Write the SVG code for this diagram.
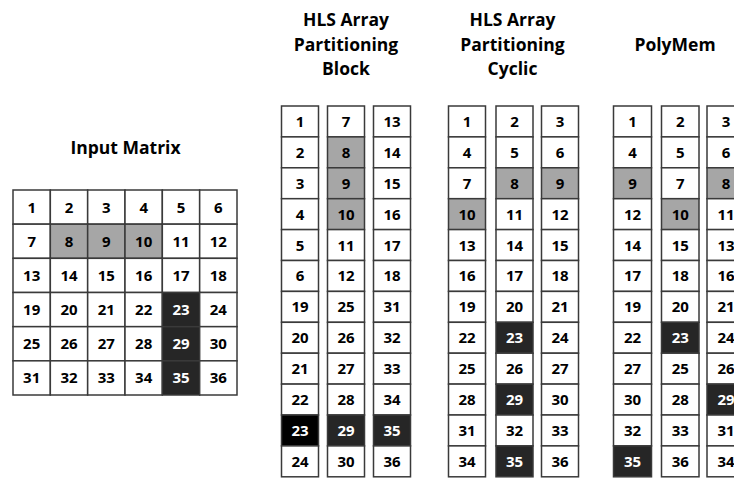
<svg xmlns="http://www.w3.org/2000/svg" width="734" height="479" viewBox="0 0 734 479">
<style>
  .t{font-family:"Open Sans",Lato,"Liberation Sans",sans-serif;font-weight:bold;font-size:17.5px;fill:#000;text-anchor:middle}
  .n{font-family:"Open Sans",Lato,"Liberation Sans",sans-serif;font-weight:bold;font-size:15px;fill:#000;text-anchor:middle}
  .w{fill:#fff}
  rect{stroke:#3a3a3a;stroke-width:1.5;fill:#fff}
  rect.g{fill:#a6a6a6}
  rect.d{fill:#262626}
  rect.k{fill:#000}
</style>
<rect x="0" y="0" width="734" height="479" style="fill:#fff;stroke:none"/>

<!-- Titles -->
<text class="t" x="125.5" y="154">Input Matrix</text>
<text class="t" x="346" y="26">HLS Array</text>
<text class="t" x="346" y="50.5">Partitioning</text>
<text class="t" x="346" y="75">Block</text>
<text class="t" x="512.5" y="26">HLS Array</text>
<text class="t" x="512.5" y="50.5">Partitioning</text>
<text class="t" x="512.5" y="75">Cyclic</text>
<text class="t" x="675" y="51">PolyMem</text>

<!-- Input Matrix -->
<g id="input-matrix">
  <rect x="13" y="190" width="37.33" height="34.17"/><rect x="50.33" y="190" width="37.33" height="34.17"/><rect x="87.67" y="190" width="37.33" height="34.17"/><rect x="125" y="190" width="37.33" height="34.17"/><rect x="162.33" y="190" width="37.33" height="34.17"/><rect x="199.67" y="190" width="37.33" height="34.17"/>
  <rect x="13" y="224.17" width="37.33" height="34.17"/><rect class="g" x="50.33" y="224.17" width="37.33" height="34.17"/><rect class="g" x="87.67" y="224.17" width="37.33" height="34.17"/><rect class="g" x="125" y="224.17" width="37.33" height="34.17"/><rect x="162.33" y="224.17" width="37.33" height="34.17"/><rect x="199.67" y="224.17" width="37.33" height="34.17"/>
  <rect x="13" y="258.33" width="37.33" height="34.17"/><rect x="50.33" y="258.33" width="37.33" height="34.17"/><rect x="87.67" y="258.33" width="37.33" height="34.17"/><rect x="125" y="258.33" width="37.33" height="34.17"/><rect x="162.33" y="258.33" width="37.33" height="34.17"/><rect x="199.67" y="258.33" width="37.33" height="34.17"/>
  <rect x="13" y="292.5" width="37.33" height="34.17"/><rect x="50.33" y="292.5" width="37.33" height="34.17"/><rect x="87.67" y="292.5" width="37.33" height="34.17"/><rect x="125" y="292.5" width="37.33" height="34.17"/><rect class="d" x="162.33" y="292.5" width="37.33" height="34.17"/><rect x="199.67" y="292.5" width="37.33" height="34.17"/>
  <rect x="13" y="326.67" width="37.33" height="34.17"/><rect x="50.33" y="326.67" width="37.33" height="34.17"/><rect x="87.67" y="326.67" width="37.33" height="34.17"/><rect x="125" y="326.67" width="37.33" height="34.17"/><rect class="d" x="162.33" y="326.67" width="37.33" height="34.17"/><rect x="199.67" y="326.67" width="37.33" height="34.17"/>
  <rect x="13" y="360.83" width="37.33" height="34.17"/><rect x="50.33" y="360.83" width="37.33" height="34.17"/><rect x="87.67" y="360.83" width="37.33" height="34.17"/><rect x="125" y="360.83" width="37.33" height="34.17"/><rect class="d" x="162.33" y="360.83" width="37.33" height="34.17"/><rect x="199.67" y="360.83" width="37.33" height="34.17"/>
  <g class="n">
    <text x="31.67" y="212.6">1</text><text x="69" y="212.6">2</text><text x="106.33" y="212.6">3</text><text x="143.67" y="212.6">4</text><text x="181" y="212.6">5</text><text x="218.33" y="212.6">6</text>
    <text x="31.67" y="246.8">7</text><text x="69" y="246.8">8</text><text x="106.33" y="246.8">9</text><text x="143.67" y="246.8">10</text><text x="181" y="246.8">11</text><text x="218.33" y="246.8">12</text>
    <text x="31.67" y="280.9">13</text><text x="69" y="280.9">14</text><text x="106.33" y="280.9">15</text><text x="143.67" y="280.9">16</text><text x="181" y="280.9">17</text><text x="218.33" y="280.9">18</text>
    <text x="31.67" y="315.1">19</text><text x="69" y="315.1">20</text><text x="106.33" y="315.1">21</text><text x="143.67" y="315.1">22</text><text class="w" x="181" y="315.1">23</text><text x="218.33" y="315.1">24</text>
    <text x="31.67" y="349.3">25</text><text x="69" y="349.3">26</text><text x="106.33" y="349.3">27</text><text x="143.67" y="349.3">28</text><text class="w" x="181" y="349.3">29</text><text x="218.33" y="349.3">30</text>
    <text x="31.67" y="383.4">31</text><text x="69" y="383.4">32</text><text x="106.33" y="383.4">33</text><text x="143.67" y="383.4">34</text><text class="w" x="181" y="383.4">35</text><text x="218.33" y="383.4">36</text>
  </g>
</g>

<!-- Block partitioning -->
<g id="block-col1" transform="translate(281.5,106)">
  <rect x="0" y="0" width="37" height="30.9"/><rect x="0" y="30.9" width="37" height="30.9"/><rect x="0" y="61.8" width="37" height="30.9"/><rect x="0" y="92.7" width="37" height="30.9"/><rect x="0" y="123.6" width="37" height="30.9"/><rect x="0" y="154.5" width="37" height="30.9"/><rect x="0" y="185.4" width="37" height="30.9"/><rect x="0" y="216.3" width="37" height="30.9"/><rect x="0" y="247.2" width="37" height="30.9"/><rect x="0" y="278.1" width="37" height="30.9"/><rect class="k" x="0" y="309" width="37" height="30.9"/><rect x="0" y="339.9" width="37" height="30.9"/>
  <g class="n"><text x="18.5" y="20.9">1</text><text x="18.5" y="51.8">2</text><text x="18.5" y="82.7">3</text><text x="18.5" y="113.6">4</text><text x="18.5" y="144.5">5</text><text x="18.5" y="175.4">6</text><text x="18.5" y="206.3">19</text><text x="18.5" y="237.2">20</text><text x="18.5" y="268.1">21</text><text x="18.5" y="299">22</text><text class="w" x="18.5" y="329.9">23</text><text x="18.5" y="360.8">24</text></g>
</g>
<g id="block-col2" transform="translate(327.5,106)">
  <rect x="0" y="0" width="37" height="30.9"/><rect class="g" x="0" y="30.9" width="37" height="30.9"/><rect class="g" x="0" y="61.8" width="37" height="30.9"/><rect class="g" x="0" y="92.7" width="37" height="30.9"/><rect x="0" y="123.6" width="37" height="30.9"/><rect x="0" y="154.5" width="37" height="30.9"/><rect x="0" y="185.4" width="37" height="30.9"/><rect x="0" y="216.3" width="37" height="30.9"/><rect x="0" y="247.2" width="37" height="30.9"/><rect x="0" y="278.1" width="37" height="30.9"/><rect class="d" x="0" y="309" width="37" height="30.9"/><rect x="0" y="339.9" width="37" height="30.9"/>
  <g class="n"><text x="18.5" y="20.9">7</text><text x="18.5" y="51.8">8</text><text x="18.5" y="82.7">9</text><text x="18.5" y="113.6">10</text><text x="18.5" y="144.5">11</text><text x="18.5" y="175.4">12</text><text x="18.5" y="206.3">25</text><text x="18.5" y="237.2">26</text><text x="18.5" y="268.1">27</text><text x="18.5" y="299">28</text><text class="w" x="18.5" y="329.9">29</text><text x="18.5" y="360.8">30</text></g>
</g>
<g id="block-col3" transform="translate(373.5,106)">
  <rect x="0" y="0" width="37" height="30.9"/><rect x="0" y="30.9" width="37" height="30.9"/><rect x="0" y="61.8" width="37" height="30.9"/><rect x="0" y="92.7" width="37" height="30.9"/><rect x="0" y="123.6" width="37" height="30.9"/><rect x="0" y="154.5" width="37" height="30.9"/><rect x="0" y="185.4" width="37" height="30.9"/><rect x="0" y="216.3" width="37" height="30.9"/><rect x="0" y="247.2" width="37" height="30.9"/><rect x="0" y="278.1" width="37" height="30.9"/><rect class="d" x="0" y="309" width="37" height="30.9"/><rect x="0" y="339.9" width="37" height="30.9"/>
  <g class="n"><text x="18.5" y="20.9">13</text><text x="18.5" y="51.8">14</text><text x="18.5" y="82.7">15</text><text x="18.5" y="113.6">16</text><text x="18.5" y="144.5">17</text><text x="18.5" y="175.4">18</text><text x="18.5" y="206.3">31</text><text x="18.5" y="237.2">32</text><text x="18.5" y="268.1">33</text><text x="18.5" y="299">34</text><text class="w" x="18.5" y="329.9">35</text><text x="18.5" y="360.8">36</text></g>
</g>

<!-- Cyclic partitioning -->
<g id="cyclic-col1" transform="translate(448.5,106)">
  <rect x="0" y="0" width="37" height="30.9"/><rect x="0" y="30.9" width="37" height="30.9"/><rect x="0" y="61.8" width="37" height="30.9"/><rect class="g" x="0" y="92.7" width="37" height="30.9"/><rect x="0" y="123.6" width="37" height="30.9"/><rect x="0" y="154.5" width="37" height="30.9"/><rect x="0" y="185.4" width="37" height="30.9"/><rect x="0" y="216.3" width="37" height="30.9"/><rect x="0" y="247.2" width="37" height="30.9"/><rect x="0" y="278.1" width="37" height="30.9"/><rect x="0" y="309" width="37" height="30.9"/><rect x="0" y="339.9" width="37" height="30.9"/>
  <g class="n"><text x="18.5" y="20.9">1</text><text x="18.5" y="51.8">4</text><text x="18.5" y="82.7">7</text><text x="18.5" y="113.6">10</text><text x="18.5" y="144.5">13</text><text x="18.5" y="175.4">16</text><text x="18.5" y="206.3">19</text><text x="18.5" y="237.2">22</text><text x="18.5" y="268.1">25</text><text x="18.5" y="299">28</text><text x="18.5" y="329.9">31</text><text x="18.5" y="360.8">34</text></g>
</g>
<g id="cyclic-col2" transform="translate(496,106)">
  <rect x="0" y="0" width="37" height="30.9"/><rect x="0" y="30.9" width="37" height="30.9"/><rect class="g" x="0" y="61.8" width="37" height="30.9"/><rect x="0" y="92.7" width="37" height="30.9"/><rect x="0" y="123.6" width="37" height="30.9"/><rect x="0" y="154.5" width="37" height="30.9"/><rect x="0" y="185.4" width="37" height="30.9"/><rect class="d" x="0" y="216.3" width="37" height="30.9"/><rect x="0" y="247.2" width="37" height="30.9"/><rect class="d" x="0" y="278.1" width="37" height="30.9"/><rect x="0" y="309" width="37" height="30.9"/><rect class="d" x="0" y="339.9" width="37" height="30.9"/>
  <g class="n"><text x="18.5" y="20.9">2</text><text x="18.5" y="51.8">5</text><text x="18.5" y="82.7">8</text><text x="18.5" y="113.6">11</text><text x="18.5" y="144.5">14</text><text x="18.5" y="175.4">17</text><text x="18.5" y="206.3">20</text><text class="w" x="18.5" y="237.2">23</text><text x="18.5" y="268.1">26</text><text class="w" x="18.5" y="299">29</text><text x="18.5" y="329.9">32</text><text class="w" x="18.5" y="360.8">35</text></g>
</g>
<g id="cyclic-col3" transform="translate(541.5,106)">
  <rect x="0" y="0" width="37" height="30.9"/><rect x="0" y="30.9" width="37" height="30.9"/><rect class="g" x="0" y="61.8" width="37" height="30.9"/><rect x="0" y="92.7" width="37" height="30.9"/><rect x="0" y="123.6" width="37" height="30.9"/><rect x="0" y="154.5" width="37" height="30.9"/><rect x="0" y="185.4" width="37" height="30.9"/><rect x="0" y="216.3" width="37" height="30.9"/><rect x="0" y="247.2" width="37" height="30.9"/><rect x="0" y="278.1" width="37" height="30.9"/><rect x="0" y="309" width="37" height="30.9"/><rect x="0" y="339.9" width="37" height="30.9"/>
  <g class="n"><text x="18.5" y="20.9">3</text><text x="18.5" y="51.8">6</text><text x="18.5" y="82.7">9</text><text x="18.5" y="113.6">12</text><text x="18.5" y="144.5">15</text><text x="18.5" y="175.4">18</text><text x="18.5" y="206.3">21</text><text x="18.5" y="237.2">24</text><text x="18.5" y="268.1">27</text><text x="18.5" y="299">30</text><text x="18.5" y="329.9">33</text><text x="18.5" y="360.8">36</text></g>
</g>

<!-- PolyMem -->
<g id="polymem-col1" transform="translate(613.5,106)">
  <rect x="0" y="0" width="38" height="30.9"/><rect x="0" y="30.9" width="38" height="30.9"/><rect class="g" x="0" y="61.8" width="38" height="30.9"/><rect x="0" y="92.7" width="38" height="30.9"/><rect x="0" y="123.6" width="38" height="30.9"/><rect x="0" y="154.5" width="38" height="30.9"/><rect x="0" y="185.4" width="38" height="30.9"/><rect x="0" y="216.3" width="38" height="30.9"/><rect x="0" y="247.2" width="38" height="30.9"/><rect x="0" y="278.1" width="38" height="30.9"/><rect x="0" y="309" width="38" height="30.9"/><rect class="d" x="0" y="339.9" width="38" height="30.9"/>
  <g class="n"><text x="19" y="20.9">1</text><text x="19" y="51.8">4</text><text x="19" y="82.7">9</text><text x="19" y="113.6">12</text><text x="19" y="144.5">14</text><text x="19" y="175.4">17</text><text x="19" y="206.3">19</text><text x="19" y="237.2">22</text><text x="19" y="268.1">27</text><text x="19" y="299">30</text><text x="19" y="329.9">32</text><text class="w" x="19" y="360.8">35</text></g>
</g>
<g id="polymem-col2" transform="translate(661.5,106)">
  <rect x="0" y="0" width="37.5" height="30.9"/><rect x="0" y="30.9" width="37.5" height="30.9"/><rect x="0" y="61.8" width="37.5" height="30.9"/><rect class="g" x="0" y="92.7" width="37.5" height="30.9"/><rect x="0" y="123.6" width="37.5" height="30.9"/><rect x="0" y="154.5" width="37.5" height="30.9"/><rect x="0" y="185.4" width="37.5" height="30.9"/><rect class="d" x="0" y="216.3" width="37.5" height="30.9"/><rect x="0" y="247.2" width="37.5" height="30.9"/><rect x="0" y="278.1" width="37.5" height="30.9"/><rect x="0" y="309" width="37.5" height="30.9"/><rect x="0" y="339.9" width="37.5" height="30.9"/>
  <g class="n"><text x="18.75" y="20.9">2</text><text x="18.75" y="51.8">5</text><text x="18.75" y="82.7">7</text><text x="18.75" y="113.6">10</text><text x="18.75" y="144.5">15</text><text x="18.75" y="175.4">18</text><text x="18.75" y="206.3">20</text><text class="w" x="18.75" y="237.2">23</text><text x="18.75" y="268.1">25</text><text x="18.75" y="299">28</text><text x="18.75" y="329.9">33</text><text x="18.75" y="360.8">36</text></g>
</g>
<g id="polymem-col3" transform="translate(707,106)">
  <rect x="0" y="0" width="38" height="30.9"/><rect x="0" y="30.9" width="38" height="30.9"/><rect class="g" x="0" y="61.8" width="38" height="30.9"/><rect x="0" y="92.7" width="38" height="30.9"/><rect x="0" y="123.6" width="38" height="30.9"/><rect x="0" y="154.5" width="38" height="30.9"/><rect x="0" y="185.4" width="38" height="30.9"/><rect x="0" y="216.3" width="38" height="30.9"/><rect x="0" y="247.2" width="38" height="30.9"/><rect class="d" x="0" y="278.1" width="38" height="30.9"/><rect x="0" y="309" width="38" height="30.9"/><rect x="0" y="339.9" width="38" height="30.9"/>
  <g class="n"><text x="19" y="20.9">3</text><text x="19" y="51.8">6</text><text x="19" y="82.7">8</text><text x="19" y="113.6">11</text><text x="19" y="144.5">13</text><text x="19" y="175.4">16</text><text x="19" y="206.3">21</text><text x="19" y="237.2">24</text><text x="19" y="268.1">26</text><text class="w" x="19" y="299">29</text><text x="19" y="329.9">31</text><text x="19" y="360.8">34</text></g>
</g>

<g id="connectors"></g>
</svg>
